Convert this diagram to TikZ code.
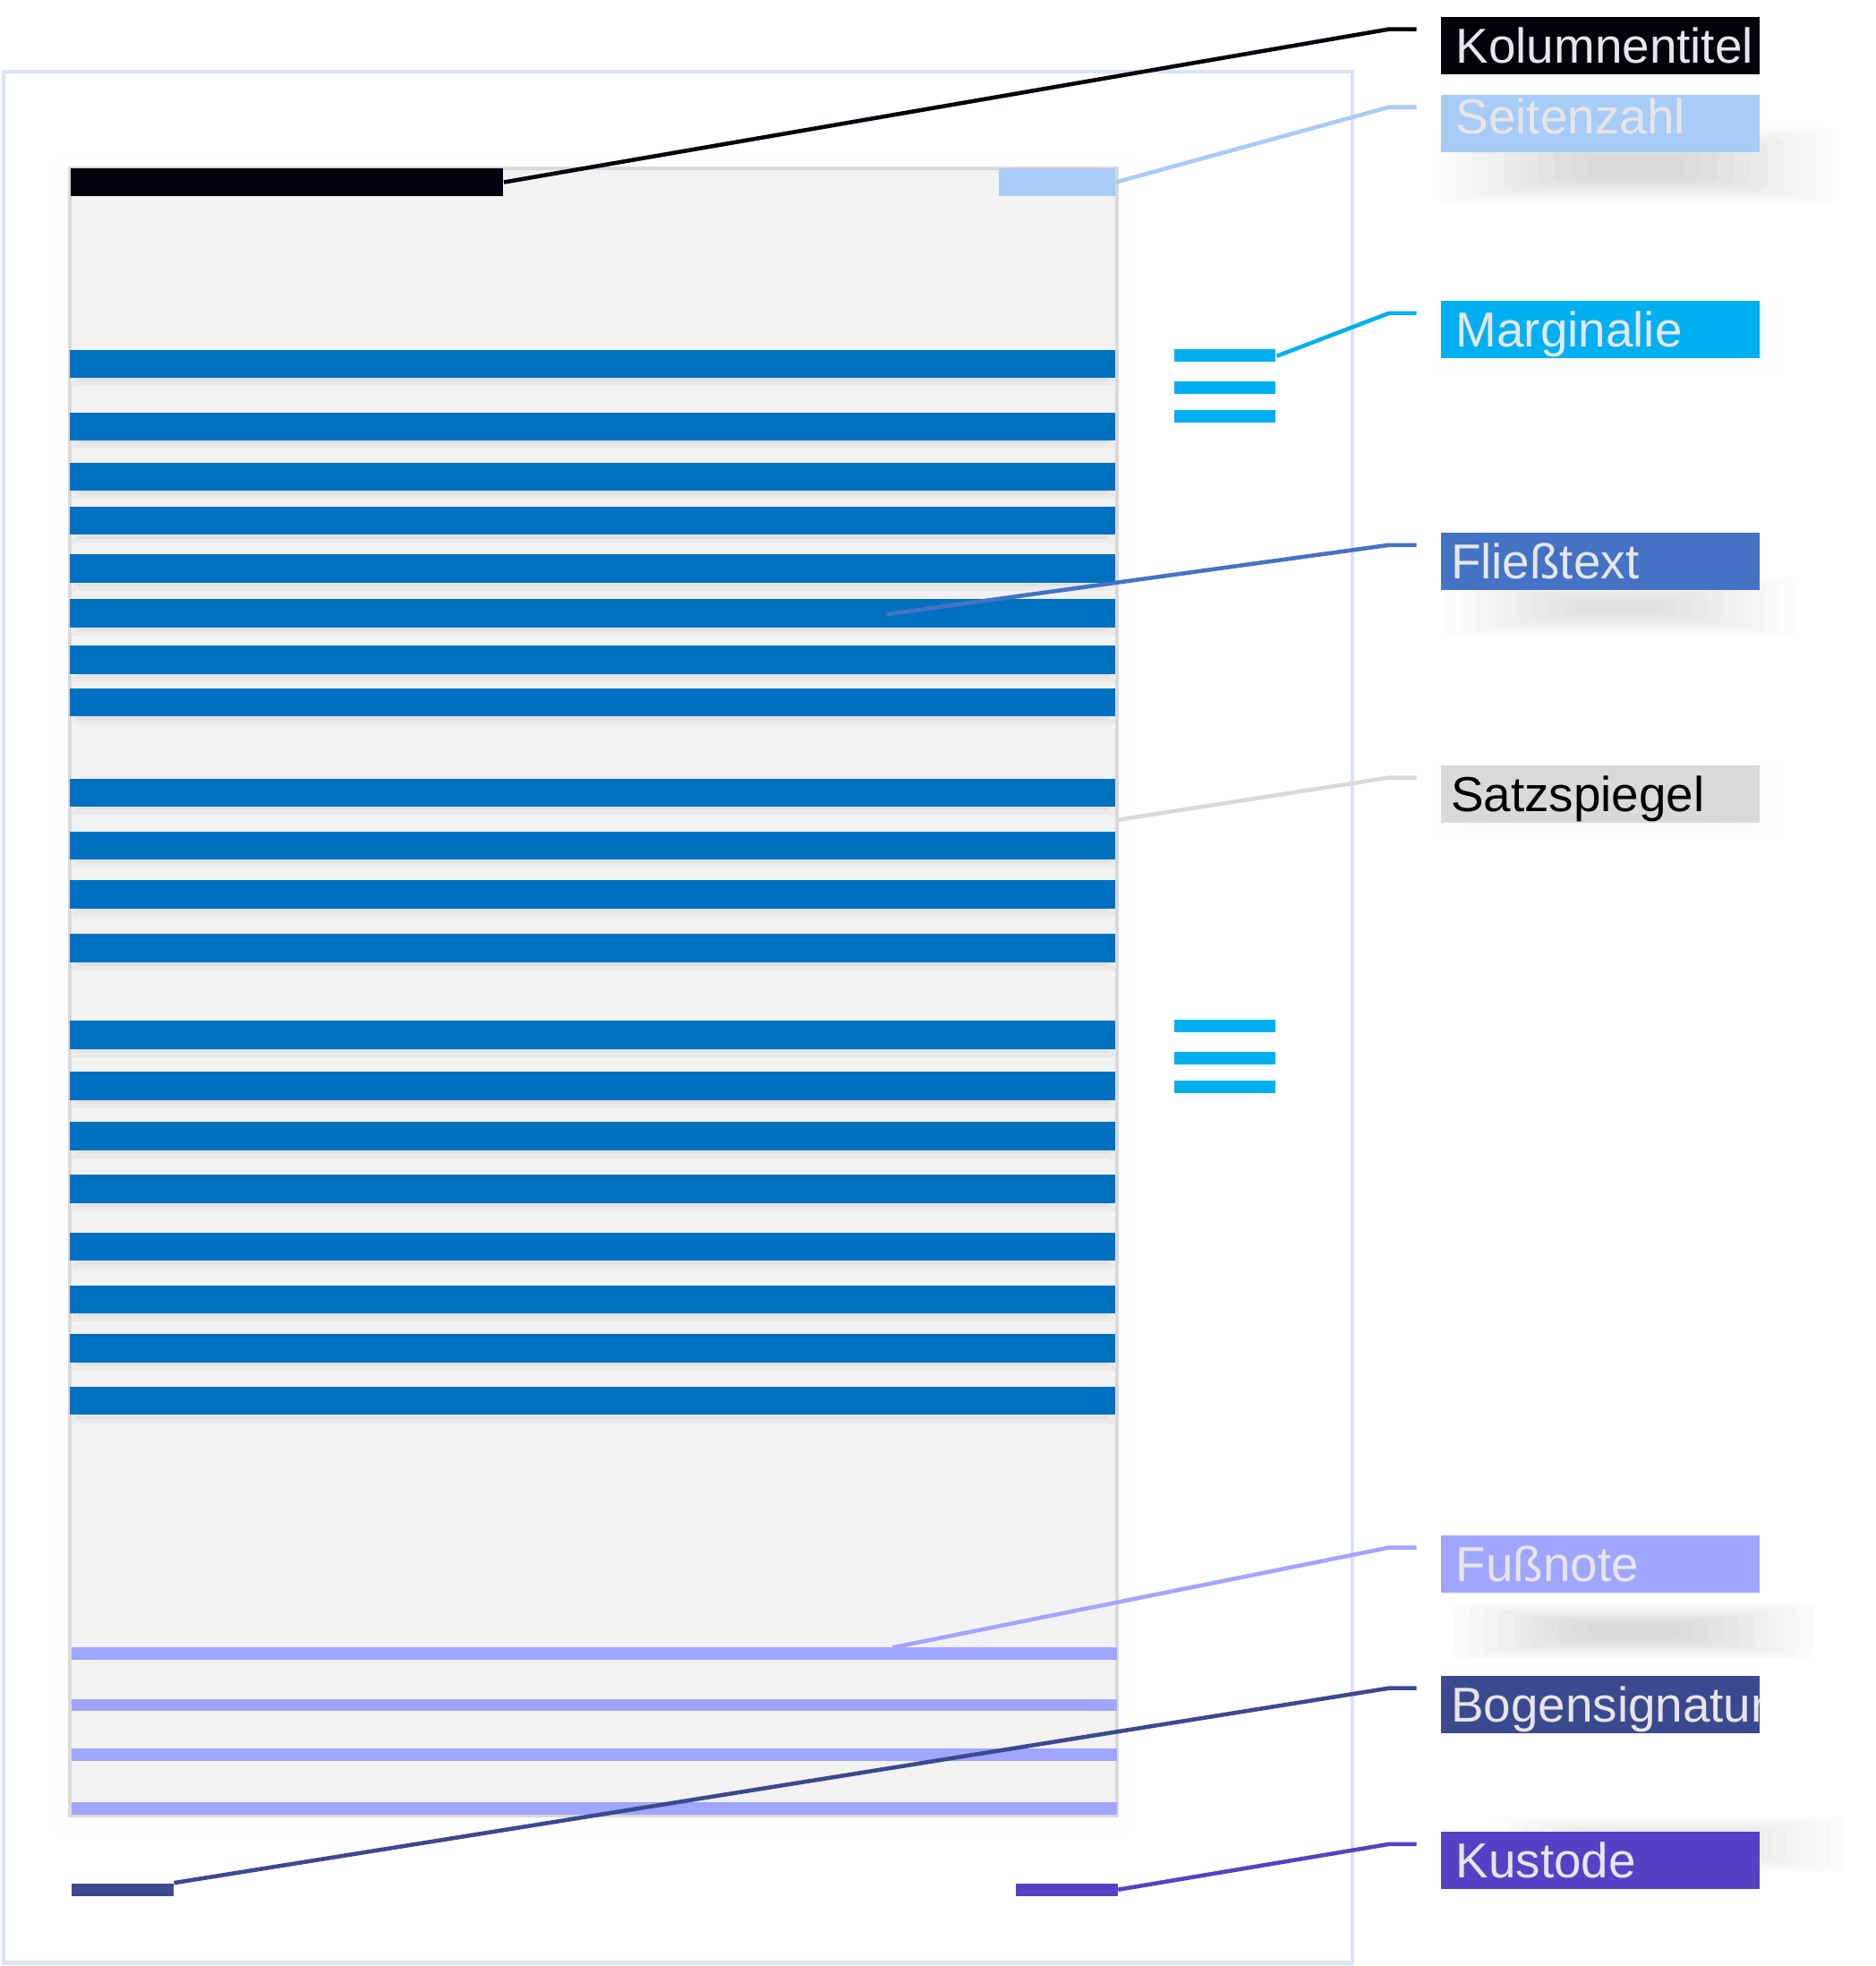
\documentclass[tikz,border=0pt]{standalone}
\usepackage{fontspec}
\setmainfont{Liberation Sans}
\definecolor{rahmenBlau}{RGB}{218,227,243}
\definecolor{satzGrau}{RGB}{242,242,242}
\definecolor{satzRand}{RGB}{217,217,217}
\definecolor{kolumneSchwarz}{RGB}{2,3,10}
\definecolor{seitenBlau}{RGB}{169,203,247}
\definecolor{margCyan}{RGB}{0,176,240}
\definecolor{zeilenBlau}{RGB}{0,112,192}
\definecolor{fliessBlau}{RGB}{68,114,196}
\definecolor{fussLila}{RGB}{160,166,255}
\definecolor{bogenBlau}{RGB}{59,73,143}
\definecolor{kustodeViolett}{RGB}{88,64,198}
\definecolor{schriftHell}{RGB}{230,230,230}

\newcommand{\px}{0.014cm}
% weicher Schatten aus gestapelten Rechtecken
\newcommand{\weichschatten}[5][0.02]{%
  \foreach \k in {0,...,9}
    \fill[black, opacity=#1, rounded corners=2pt]
      ({#2+\k*(#4-#2)/24}, {#3+\k*(#5-#3)/24}) rectangle ({#4-\k*(#4-#2)/24}, {#5-\k*(#5-#3)/24});
}

\begin{document}
\begin{tikzpicture}[
    x=0.014cm, y=-0.014cm,
    balken/.style={rectangle, inner sep=0pt, anchor=north west},
    labelbox/.style={rectangle, anchor=west, inner xsep=4.8pt, inner ysep=0pt, text width=91.6pt, minimum height=45.5*\px, align=left, text height=12pt, text depth=1pt, font=\fontsize{15.6}{18}\selectfont, text=schriftHell},
    knapp/.style={inner xsep=3.2pt, text width=94.8pt},
    linie/.style={line width=1.3pt, line join=round}
]
    \useasboundingbox (0,0) rectangle (1496,1568);

    % Seite und Satzspiegel
    \draw[rahmenBlau, line width=1.2pt] (3,57) rectangle (1079,1565.5);
    \weichschatten[0.005]{42}{124}{904}{1462}
    \draw[fill=satzGrau, draw=satzRand, line width=1.1pt] (55.5,134.5) rectangle (891,1448);
    \coordinate (satzanker) at (891,654);

    % Textzeilen
    \foreach \zeile in {279,329,369,404,442,478,515,549,621,663,702,745,814,855,895,937,983,1025,1064,1106} {
        \fill[black, opacity=0.03] (58,\zeile+22.5) rectangle (889,\zeile+29);
        \fill[black, opacity=0.03] (62,\zeile+22.5) rectangle (885,\zeile+25.5);
        \fill[zeilenBlau] (55.5,\zeile) rectangle (889.5,\zeile+22.5);
    }
    \coordinate (fliessanker) at (707,490);

    % Fussnoten
    \foreach \zeile in {1314,1355,1394.6,1437.6}
        \fill[fussLila] (56.8,\zeile) rectangle (891,\zeile+9.8);
    \coordinate (fussanker) at (712,1314);

    % Marginalien
    \foreach \zeile in {278.5,304.2,327,813.4,839,862} {
        \fill[black, opacity=0.02] (939,\zeile+10) rectangle (1016,\zeile+15);
        \fill[margCyan] (937,\zeile) rectangle (1017.6,\zeile+10);
    }
    \node[balken, minimum width=80.6*\px, minimum height=10*\px] (margbalken) at (937,278.5) {};

    % Kopf- und Fusselemente
    \node[balken, fill=kolumneSchwarz, minimum width=345*\px, minimum height=22.7*\px] (kolbalken) at (56,133.5) {};
    \node[balken, fill=seitenBlau, minimum width=93*\px, minimum height=22.7*\px] (seitenbalken) at (796,133.5) {};
    \node[balken, fill=bogenBlau, minimum width=81*\px, minimum height=9.8*\px] (bogenbalken) at (56.8,1501.7) {};
    \node[balken, fill=kustodeViolett, minimum width=81*\px, minimum height=9.8*\px] (kustbalken) at (810,1501.7) {};

    % Schatten der Beschriftungen
    \weichschatten[0.017]{1148}{102}{1462}{162}
    \weichschatten[0.005]{1143}{236}{1420}{300}
    \weichschatten[0.013]{1152}{460}{1432}{507}
    \weichschatten[0.005]{1143}{606}{1420}{670}
    \weichschatten[0.015]{1160}{1279}{1447}{1323}
    \weichschatten[0.013]{1192}{1449}{1472}{1493}

    % Beschriftungen
    \node[labelbox, fill=kolumneSchwarz] (lkol) at (1149,36.3) {Kolumnentitel};
    \node[labelbox, fill=seitenBlau, text depth=5.6pt] (lseite) at (1149,98.5) {Seitenzahl};
    \node[labelbox, fill=margCyan] (lmarg) at (1149,262.8) {Marginalie};
    \node[labelbox, knapp, fill=fliessBlau] (lfliess) at (1149,447.7) {Fließtext};
    \node[labelbox, knapp, fill=satzRand, text=black] (lsatz) at (1149,633.2) {Satzspiegel};
    \node[labelbox, fill=fussLila] (lfuss) at (1149,1247.3) {Fußnote};
    \begin{scope}
        \clip (1149,1336.6) rectangle (1404.2,1382.1);
        \node[labelbox, knapp, fill=bogenBlau] (lbogen) at (1149,1359.4) {Bogensignatur};
    \end{scope}
    \node[labelbox, fill=kustodeViolett] (lkust) at (1149,1483.8) {Kustode};

    % Hinweislinien
    \draw[linie, kolumneSchwarz] (kolbalken.east) -- ([shift={(-41,-13)}]lkol.west) -- ([shift={(-19,-13)}]lkol.west);
    \draw[linie, seitenBlau] (seitenbalken.east) -- ([shift={(-41,-13)}]lseite.west) -- ([shift={(-19,-13)}]lseite.west);
    \draw[linie, margCyan] (margbalken.east) -- ([shift={(-41,-13)}]lmarg.west) -- ([shift={(-19,-13)}]lmarg.west);
    \draw[linie, fliessBlau] (fliessanker) -- ([shift={(-41,-13)}]lfliess.west) -- ([shift={(-19,-13)}]lfliess.west);
    \draw[linie, satzRand] (satzanker) -- ([shift={(-41,-13)}]lsatz.west) -- ([shift={(-19,-13)}]lsatz.west);
    \draw[linie, fussLila] (fussanker) -- ([shift={(-41,-13)}]lfuss.west) -- ([shift={(-19,-13)}]lfuss.west);
    \draw[linie, bogenBlau] (bogenbalken.north east) -- ([shift={(-41,-13)}]lbogen.west) -- ([shift={(-19,-13)}]lbogen.west);
    \draw[linie, kustodeViolett] (kustbalken.east) -- ([shift={(-41,-13)}]lkust.west) -- ([shift={(-19,-13)}]lkust.west);
\end{tikzpicture}
\end{document}
